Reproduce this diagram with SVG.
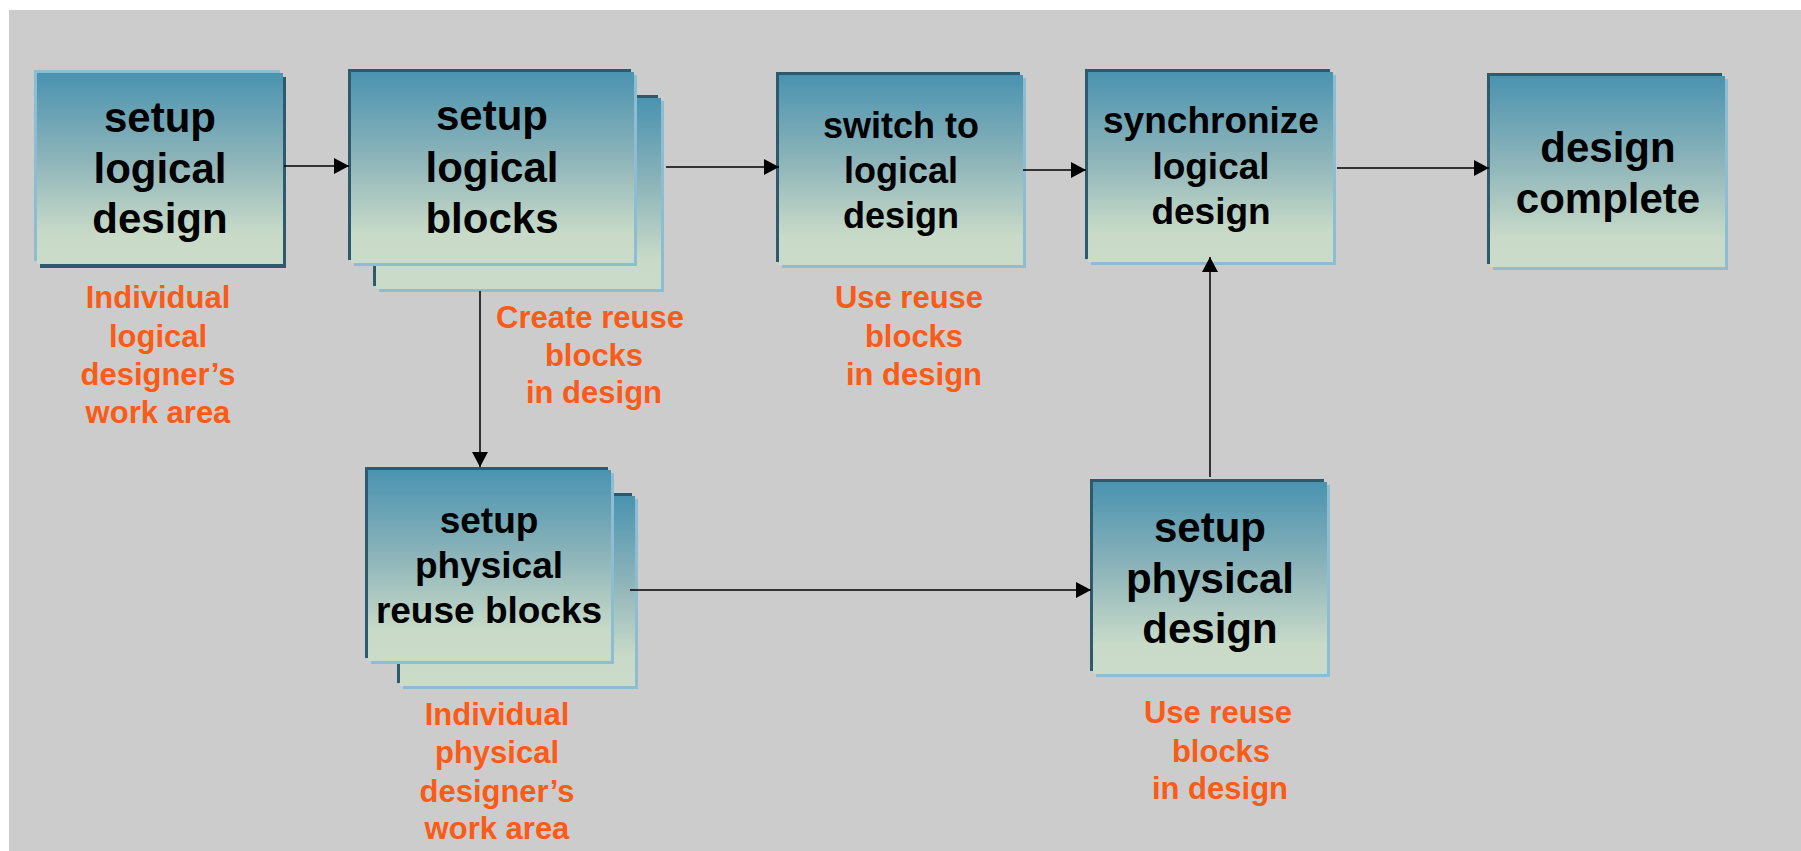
<svg xmlns="http://www.w3.org/2000/svg" width="1801" height="851" viewBox="0 0 1801 851">
  <defs>
    <linearGradient id="boxFill" x1="0" y1="0" x2="0" y2="1">
      <stop offset="0" stop-color="#4a93b0"/>
      <stop offset="0.45" stop-color="#8db4b9"/>
      <stop offset="0.85" stop-color="#c9dbc8"/>
      <stop offset="1" stop-color="#cadcc9"/>
    </linearGradient>
    <marker id="arrow" markerUnits="userSpaceOnUse" markerWidth="16" markerHeight="16" viewBox="0 0 16 16" refX="15" refY="8" orient="auto">
      <path d="M0,0 L15,8 L0,16 Z" fill="#000"/>
    </marker>
    <style>
      .dark { fill: #2d5b6d; }
      .light { fill: #8dbdd3; }
      .face { fill: url(#boxFill); }
      .title { font-family: "Liberation Sans", Arial, sans-serif; font-weight: bold; fill: #000; text-anchor: middle; }
      .note { font-family: "Liberation Sans", Arial, sans-serif; font-weight: bold; font-size: 31px; fill: #fa5b17; text-anchor: middle; }
      .link { stroke: #000; stroke-width: 1.5; fill: none; }
    </style>
  </defs>

  <!-- canvas -->
  <rect x="0" y="0" width="1801" height="851" fill="#ffffff"/>
  <rect x="9" y="10" width="1792" height="841" fill="#cccccc"/>

  <!-- setup logical design -->
  <g id="setup-logical-design">
    <rect class="dark" x="40" y="77" width="246" height="191"/>
    <rect class="light" x="34" y="70" width="246" height="191"/>
    <rect class="face" x="37" y="73" width="246" height="191"/>
    <text class="title" font-size="42" x="160" y="132">setup</text>
    <text class="title" font-size="42" x="160" y="183">logical</text>
    <text class="title" font-size="42" x="160" y="233">design</text>
  </g>

  <!-- setup logical blocks (stacked) -->
  <g id="setup-logical-blocks">
    <rect class="dark" x="373" y="95" width="285" height="191"/>
    <rect class="light" x="379" y="101" width="285" height="191"/>
    <rect class="face" x="376" y="98" width="285" height="191"/>
    <rect class="dark" x="348" y="69" width="283" height="191"/>
    <rect class="light" x="354" y="75" width="283" height="191"/>
    <rect class="face" x="351" y="72" width="283" height="191"/>
    <text class="title" font-size="42" x="492" y="130">setup</text>
    <text class="title" font-size="42" x="492" y="182">logical</text>
    <text class="title" font-size="42" x="492" y="233">blocks</text>
  </g>

  <!-- switch to logical design -->
  <g id="switch-to-logical-design">
    <rect class="dark" x="776" y="72" width="244" height="190"/>
    <rect class="light" x="782" y="78" width="244" height="190"/>
    <rect class="face" x="779" y="75" width="244" height="190"/>
    <text class="title" font-size="36" x="901" y="138">switch to</text>
    <text class="title" font-size="36" x="901" y="183">logical</text>
    <text class="title" font-size="36" x="901" y="228">design</text>
  </g>

  <!-- synchronize logical design -->
  <g id="synchronize-logical-design">
    <rect class="dark" x="1085" y="69" width="245" height="190"/>
    <rect class="light" x="1091" y="75" width="245" height="190"/>
    <rect class="face" x="1088" y="72" width="245" height="190"/>
    <text class="title" font-size="37" x="1211" y="133">synchronize</text>
    <text class="title" font-size="37" x="1211" y="179">logical</text>
    <text class="title" font-size="37" x="1211" y="224">design</text>
  </g>

  <!-- design complete -->
  <g id="design-complete">
    <rect class="dark" x="1487" y="73" width="235" height="191"/>
    <rect class="light" x="1493" y="79" width="235" height="191"/>
    <rect class="face" x="1490" y="76" width="235" height="191"/>
    <text class="title" font-size="42" x="1608" y="162">design</text>
    <text class="title" font-size="42" x="1608" y="213">complete</text>
  </g>

  <!-- setup physical reuse blocks (stacked) -->
  <g id="setup-physical-reuse-blocks">
    <rect class="dark" x="397" y="493" width="235" height="190"/>
    <rect class="light" x="403" y="499" width="235" height="190"/>
    <rect class="face" x="400" y="496" width="235" height="190"/>
    <rect class="dark" x="365" y="467" width="243" height="191"/>
    <rect class="light" x="371" y="473" width="243" height="191"/>
    <rect class="face" x="368" y="470" width="243" height="191"/>
    <text class="title" font-size="37" x="489" y="533">setup</text>
    <text class="title" font-size="37" x="489" y="578">physical</text>
    <text class="title" font-size="37" x="489" y="623">reuse blocks</text>
  </g>

  <!-- setup physical design -->
  <g id="setup-physical-design">
    <rect class="dark" x="1090" y="479" width="234" height="192"/>
    <rect class="light" x="1096" y="485" width="234" height="192"/>
    <rect class="face" x="1093" y="482" width="234" height="192"/>
    <text class="title" font-size="42" x="1210" y="542">setup</text>
    <text class="title" font-size="42" x="1210" y="593">physical</text>
    <text class="title" font-size="42" x="1210" y="643">design</text>
  </g>

  <!-- annotations -->
  <g id="note-logical-work-area">
    <text class="note" x="158" y="308">Individual</text>
    <text class="note" x="158" y="347">logical</text>
    <text class="note" x="158" y="385">designer’s</text>
    <text class="note" x="158" y="423">work area</text>
  </g>
  <g id="note-create-reuse">
    <text class="note" x="590" y="328">Create reuse</text>
    <text class="note" x="594" y="366">blocks</text>
    <text class="note" x="594" y="403">in design</text>
  </g>
  <g id="note-use-reuse-logical">
    <text class="note" x="909" y="308">Use reuse</text>
    <text class="note" x="914" y="347">blocks</text>
    <text class="note" x="914" y="385">in design</text>
  </g>
  <g id="note-physical-work-area">
    <text class="note" x="497" y="725">Individual</text>
    <text class="note" x="497" y="763">physical</text>
    <text class="note" x="497" y="802">designer’s</text>
    <text class="note" x="497" y="839">work area</text>
  </g>
  <g id="note-use-reuse-physical">
    <text class="note" x="1218" y="723">Use reuse</text>
    <text class="note" x="1221" y="762">blocks</text>
    <text class="note" x="1220" y="799">in design</text>
  </g>

  <!-- connectors -->
  <g id="connectors">
    <line class="link" x1="284" y1="166" x2="349" y2="166" marker-end="url(#arrow)"/>
    <line class="link" x1="666" y1="167" x2="779" y2="167" marker-end="url(#arrow)"/>
    <line class="link" x1="1023" y1="170" x2="1086" y2="170" marker-end="url(#arrow)"/>
    <line class="link" x1="1337" y1="168" x2="1489" y2="168" marker-end="url(#arrow)"/>
    <line class="link" x1="480" y1="291" x2="480" y2="467" marker-end="url(#arrow)"/>
    <line class="link" x1="630" y1="590" x2="1091" y2="590" marker-end="url(#arrow)"/>
    <line class="link" x1="1210" y1="477" x2="1210" y2="257" marker-end="url(#arrow)"/>
  </g>
</svg>
